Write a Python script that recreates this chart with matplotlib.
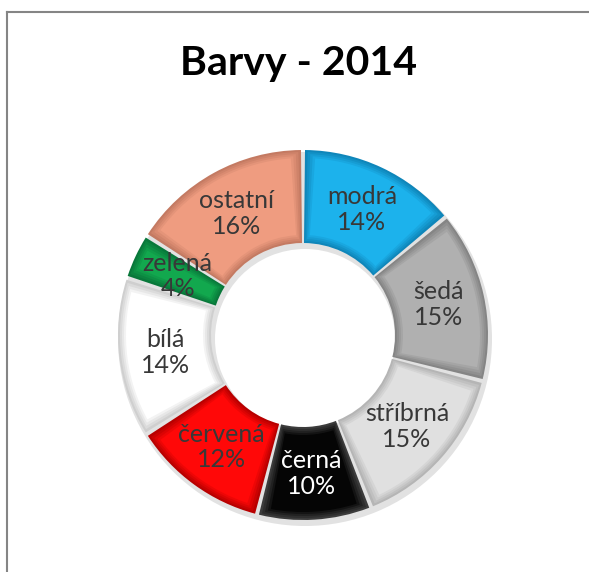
import matplotlib
matplotlib.use("Agg")
import matplotlib.pyplot as plt
from matplotlib.lines import Line2D
import matplotlib.colors as mcolors
import numpy as np

title = "Barvy - 2014"
categories = ["modrá", "šedá", "stříbrná", "černá", "červená", "bílá", "zelená", "ostatní"]
values = [14, 15, 15, 10, 12, 14, 4, 16]
colors = ["#1CB2EC", "#B0B0B0", "#E0E0E0", "#050505", "#FF0808", "#FFFFFF", "#12A84E", "#EF9C80"]
rim_colors = ["#0F86BA", "#858585", "#B5B5B5", "#3C3C3C", "#B80000", "#CFCFCF", "#08783A", "#C47A62"]
text_colors = ["#383838", "#383838", "#383838", "#FFFFFF", "#383838", "#383838", "#383838", "#383838"]

W, H = 589, 572
fig = plt.figure(figsize=(W / 100, H / 100), dpi=100)
ax = fig.add_axes([0, 0, 1, 1])

cx, cy = 303, H - 335
R_out, R_in = 185, 92

# soft shadow
ax.pie([1], colors=["#E2E2E2"], radius=R_out + 2, center=(cx + 2, cy - 4),
       wedgeprops=dict(width=R_out - R_in + 4, linewidth=0), startangle=90)

# bevel layers: from rim colour (outside) to face colour (inside)
steps = [0, 2, 4, 6, 8]
r_mid = (R_out + R_in) / 2
for k, inset in enumerate(steps):
    t = k / (len(steps) - 1)
    layer_cols = [tuple((1 - t) * np.array(mcolors.to_rgb(rc)) + t * np.array(mcolors.to_rgb(fc)))
                  for rc, fc in zip(rim_colors, colors)]
    wedges, _ = ax.pie(values, colors=layer_cols, radius=R_out - inset, center=(cx, cy),
                       startangle=90, counterclock=False,
                       wedgeprops=dict(width=R_out - R_in - 2 * inset, linewidth=0))
    dth = np.degrees((inset + 1.5) / r_mid)
    for w in wedges:
        t1, t2 = w.theta1, w.theta2
        w.set_theta1(t1 + dth)
        w.set_theta2(t2 - dth)

total = sum(values)
cum = 0
for cat, v, tc in zip(categories, values, text_colors):
    mid = (cum + v / 2) / total * 2 * np.pi
    cum += v
    x = cx + r_mid * np.sin(mid)
    y = cy + r_mid * np.cos(mid)
    ax.text(x, y, f"{cat}\n{v}%", ha="center", va="center", fontsize=18,
            color=tc, family="Lato", linespacing=1.15)

ax.text(W / 2 + 4, H - 63, title, ha="center", va="center", fontsize=29.5,
        fontweight="bold", family="Lato", color="black")

ax.set_xlim(0, W)
ax.set_ylim(0, H)
ax.set_aspect("equal")
ax.axis("off")

# chart border (top and left visible)
fig.add_artist(Line2D([7 / W, 7 / W], [0, (H - 12) / H], color="#858585", lw=1.5))
fig.add_artist(Line2D([7 / W, 1], [(H - 12) / H, (H - 12) / H], color="#858585", lw=1.5))

fig.savefig("out.png", dpi=100)
